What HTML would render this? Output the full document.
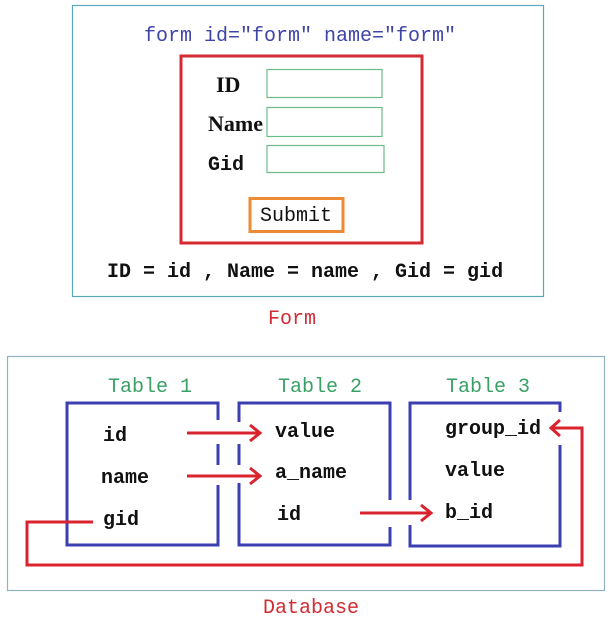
<!DOCTYPE html>
<html><head><style>
html,body{margin:0;padding:0;background:#fff;}
svg{display:block;}
</style></head><body>
<svg width="615" height="640" viewBox="0 0 615 640" font-family="Liberation Mono, monospace" font-size="20" font-weight="bold">
<rect x="72.5" y="5.5" width="471" height="291" fill="none" stroke="#5aa8b8" stroke-width="1.2"/>
<text x="144" y="41" fill="#3f44a8" font-weight="normal">form id=″form″  name=″form″</text>
<rect x="181" y="56" width="241" height="187" fill="none" stroke="#d42a32" stroke-width="3"/>
<text x="216" y="92" fill="#111" font-family="Liberation Serif, serif" font-size="22">ID</text>
<text x="208" y="131" fill="#111" font-family="Liberation Serif, serif" font-size="22">Name</text>
<text x="208" y="170" fill="#111">Gid</text>
<rect x="267" y="69.5" width="115" height="28" fill="none" stroke="#6dbb8a" stroke-width="1.2"/>
<rect x="267" y="107.5" width="115" height="29" fill="none" stroke="#6dbb8a" stroke-width="1.2"/>
<rect x="267" y="145.5" width="117" height="27" fill="none" stroke="#6dbb8a" stroke-width="1.2"/>
<rect x="250" y="198.5" width="93" height="33" fill="none" stroke="#ee8a33" stroke-width="3"/>
<text x="260" y="221" fill="#111" font-weight="normal">Submit</text>
<text x="107" y="277" fill="#111">ID = id , Name = name , Gid = gid</text>
<text x="268" y="324" fill="#d42a32" font-weight="normal">Form</text>

<rect x="7.5" y="356.5" width="597" height="234" fill="none" stroke="#8fb3c4" stroke-width="1.2"/>
<g fill="#3aa066" font-weight="normal">
<text x="108" y="392">Table 1</text>
<text x="278" y="392">Table 2</text>
<text x="446" y="392">Table 3</text>
</g>
<g stroke="#3c3fb0" stroke-width="3" fill="none">
<path d="M218,420 V403 H67 V545 H218 V485 M218,444 V465"/>
<path d="M239,422 V403 H390 V500 M390,527 V545 H239 V483 M239,444 V465"/>
<path d="M410,500 V403 H560 V412 M560,445 V546 H410 V525"/>
</g>
<g fill="#111">
<text x="103" y="441">id</text>
<text x="101" y="483">name</text>
<text x="103" y="525">gid</text>
<text x="275" y="437">value</text>
<text x="275" y="478">a_name</text>
<text x="277" y="520">id</text>
<text x="445" y="434">group_id</text>
<text x="445" y="476">value</text>
<text x="445" y="518">b_id</text>
</g>
<g stroke="#d9232e" stroke-width="3" fill="none">
<path d="M187,433 H260 M250,425 L260,433 L250,441"/>
<path d="M187,476 H260 M250,468 L260,476 L250,484"/>
<path d="M360,513 H431 M421,505 L431,513 L421,521"/>
<path d="M93,522 H27 V565 H582 V428 H551 M560,420 L551,428 L560,436"/>
</g>
<text x="263" y="613" fill="#d42a32" font-weight="normal">Database</text>
</svg>
</body></html>
